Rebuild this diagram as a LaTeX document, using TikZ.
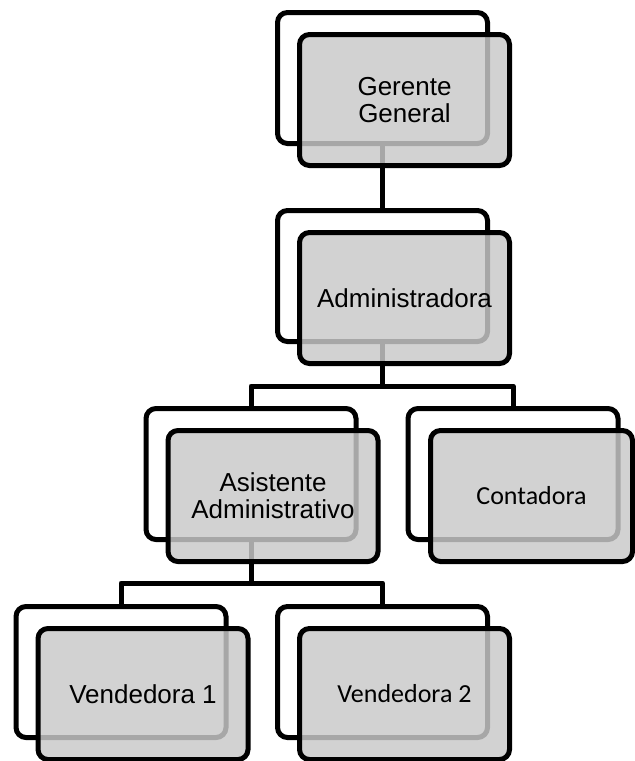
\documentclass[tikz,border=0pt]{standalone}
\usepackage{fontspec}
\setmainfont{Liberation Sans}
\newfontfamily\calibrifont{Carlito}
\begin{document}
\begin{tikzpicture}[x=1pt, y=-1pt,
    backbox/.style={draw, line width=5pt, rounded corners=10pt, fill=white,
        minimum width=210pt, minimum height=131pt, inner sep=0},
    frontbox/.style={draw, line width=5pt, rounded corners=10pt, fill=black!21,
        fill opacity=0.83, text opacity=1, minimum width=210pt,
        minimum height=131pt, inner sep=0, align=center,
        font=\fontsize{26}{27}\selectfont},
    link/.style={line width=5pt, line join=round}]

    \useasboundingbox (0, 0) rectangle (635, 761);

    % Back boxes
    \node[backbox] (gerB) at (382.5, 78) {};
    \node[backbox] (admB) at (382.5, 276) {};
    \node[backbox] (asiB) at (251, 474) {};
    \node[backbox] (conB) at (513, 474) {};
    \node[backbox] (ve1B) at (121, 672) {};
    \node[backbox] (ve2B) at (382.5, 672) {};

    % Connectors
    \coordinate (barA) at (382.5, 386);
    \coordinate (barB) at (251, 583);
    \draw[link] (gerB.south) -- (admB.north);
    \draw[link] (admB.south) -- (barA) -| (asiB.north);
    \draw[link] (barA) -| (conB.north);
    \draw[link] (asiB.south) -- (barB) -| (ve1B.north);
    \draw[link] (barB) -| (ve2B.north);

    % Front boxes
    \node[frontbox] (gerF) at ([shift={(22, 22)}]gerB) {Gerente\\General};
    \node[frontbox] (admF) at ([shift={(22, 22)}]admB) {Administradora};
    \node[frontbox] (asiF) at ([shift={(22, 22)}]asiB)
        {Asistente\\Administrativo};
    \node[frontbox, minimum width=202pt,
        font=\calibrifont\fontsize{26}{27}\selectfont]
        (conF) at ([shift={(18.5, 22)}]conB) {Contadora};
    \node[frontbox] (ve1F) at ([shift={(22, 22)}]ve1B) {Vendedora 1};
    \node[frontbox, font=\calibrifont\fontsize{26}{27}\selectfont]
        (ve2F) at ([shift={(22, 22)}]ve2B) {Vendedora 2};

\end{tikzpicture}
\end{document}
